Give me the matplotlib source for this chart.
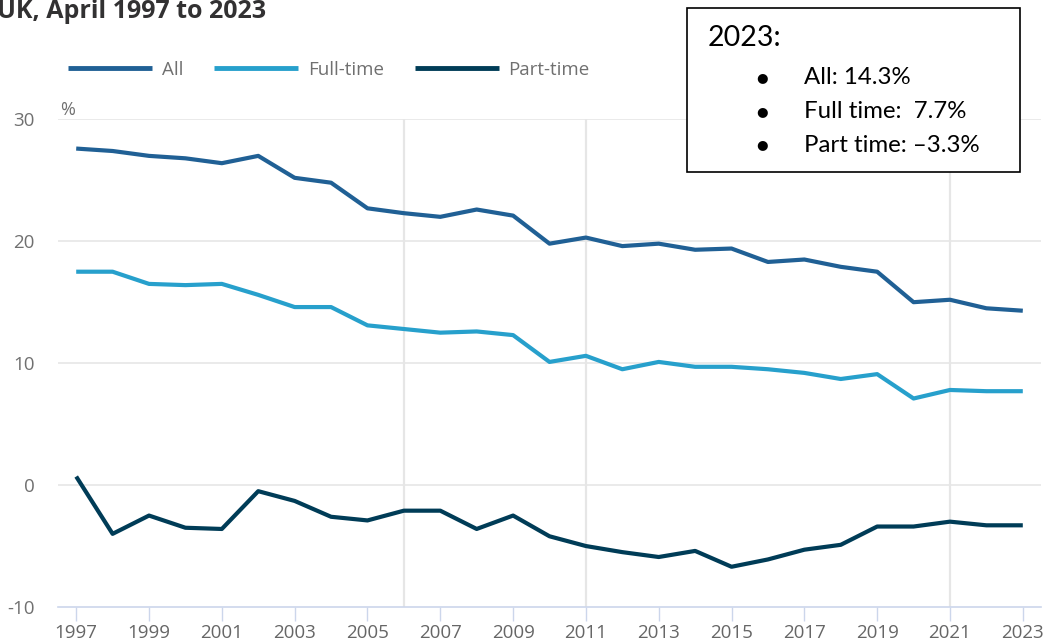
import matplotlib
matplotlib.use("Agg")
import matplotlib.pyplot as plt
from matplotlib.patches import Rectangle

years = list(range(1997, 2024))
all_vals = [27.6, 27.4, 27.0, 26.8, 26.4, 27.0, 25.2, 24.8, 22.7, 22.3, 22.0, 22.6, 22.1,
            19.8, 20.3, 19.6, 19.8, 19.3, 19.4, 18.3, 18.5, 17.9, 17.5, 15.0, 15.2, 14.5, 14.3]
full_time = [17.5, 17.5, 16.5, 16.4, 16.5, 15.6, 14.6, 14.6, 13.1, 12.8, 12.5, 12.6, 12.3,
             10.1, 10.6, 9.5, 10.1, 9.7, 9.7, 9.5, 9.2, 8.7, 9.1, 7.1, 7.8, 7.7, 7.7]
part_time = [0.7, -4.0, -2.5, -3.5, -3.6, -0.5, -1.3, -2.6, -2.9, -2.1, -2.1, -3.6, -2.5,
             -4.2, -5.0, -5.5, -5.9, -5.4, -6.7, -6.1, -5.3, -4.9, -3.4, -3.4, -3.0, -3.3, -3.3]
series_names = ["All", "Full-time", "Part-time"]
series_colors = ["#206095", "#27a0cc", "#003c57"]
y_ticks = [-10, 0, 10, 20, 30]
x_ticks = list(range(1997, 2024, 2))
break_years = [2006, 2011, 2021]
title = "UK, April 1997 to 2023"
box_head = "2023:"
box_items = ["All: 14.3%", "Full time:  7.7%", "Part time: \u20133.3%"]

plt.rcParams["font.family"] = ["Open Sans", "DejaVu Sans"]

fig = plt.figure(figsize=(10.5, 6.42), dpi=100)
ax = fig.add_axes([58/1050, 35/642, 983/1050, (607-119.3)/642])

for vals, name, col in zip([all_vals, full_time, part_time], series_names, series_colors):
    ax.plot(years, vals, color=col, lw=3, label=name, solid_capstyle="butt", zorder=3)

ax.set_xlim(1996.5, 2023.5)
ax.set_ylim(-10, 30)
ax.set_yticks(y_ticks)
ax.set_yticklabels([str(v) for v in y_ticks])
ax.set_xticks(x_ticks)

grid_col = "#e6e6e6"
for v in y_ticks[1:]:
    ax.axhline(v, color=grid_col, lw=1.2, zorder=1)
for b in break_years:
    ax.axvline(b, color=grid_col, lw=1.6, zorder=1)

for s in ["top", "right", "left"]:
    ax.spines[s].set_visible(False)
ax.spines["bottom"].set_color("#ccd6eb")
ax.spines["bottom"].set_linewidth(1.2)
ax.tick_params(axis="x", colors="#ccd6eb", length=10, width=1, labelcolor="#666666",
               labelsize=13.5, pad=2)
ax.tick_params(axis="y", length=0, labelcolor="#707070", labelsize=13.5, pad=17)

ax.text(1996.55, 30.33, "%", color="#707070", fontsize=13, ha="left", va="baseline")

leg = ax.legend(loc="center left", bbox_to_anchor=(68/1050, 1 - 70/642),
                bbox_transform=fig.transFigure, ncol=3, frameon=False,
                handlelength=4.5, handletextpad=0.5, columnspacing=1.65, fontsize=13.5,
                borderaxespad=0, borderpad=0)
for t in leg.get_texts():
    t.set_color("#707070")
for h in leg.legend_handles:
    h.set_linewidth(3.5)

fig.text(-3/1050, 1 - 17.5/642, title, fontsize=18, fontweight="bold", color="#323132",
         ha="left", va="baseline")

fig.patches.append(Rectangle((687/1050, 1 - 172/642), (1020-687)/1050, (172-8)/642,
                             transform=fig.transFigure, fill=True, facecolor="white",
                             edgecolor="black", lw=1.2, zorder=5))
fig.text(708/1050, 1 - 38/642, box_head, fontsize=20.5, color="black",
         family=["Lato", "DejaVu Sans"], ha="left", va="center", zorder=6)
for i, item in enumerate(box_items):
    yy = 1 - (78 + i*33.5)/642
    fig.text(762/1050, yy, "\u25CF", fontsize=9.5, color="black", family=["DejaVu Sans"],
             ha="center", va="center", zorder=6)
    fig.text(804/1050, yy, item, fontsize=17.3, color="black", family=["Lato", "DejaVu Sans"],
             ha="left", va="center", zorder=6)

fig.savefig("out.png", dpi=100)
